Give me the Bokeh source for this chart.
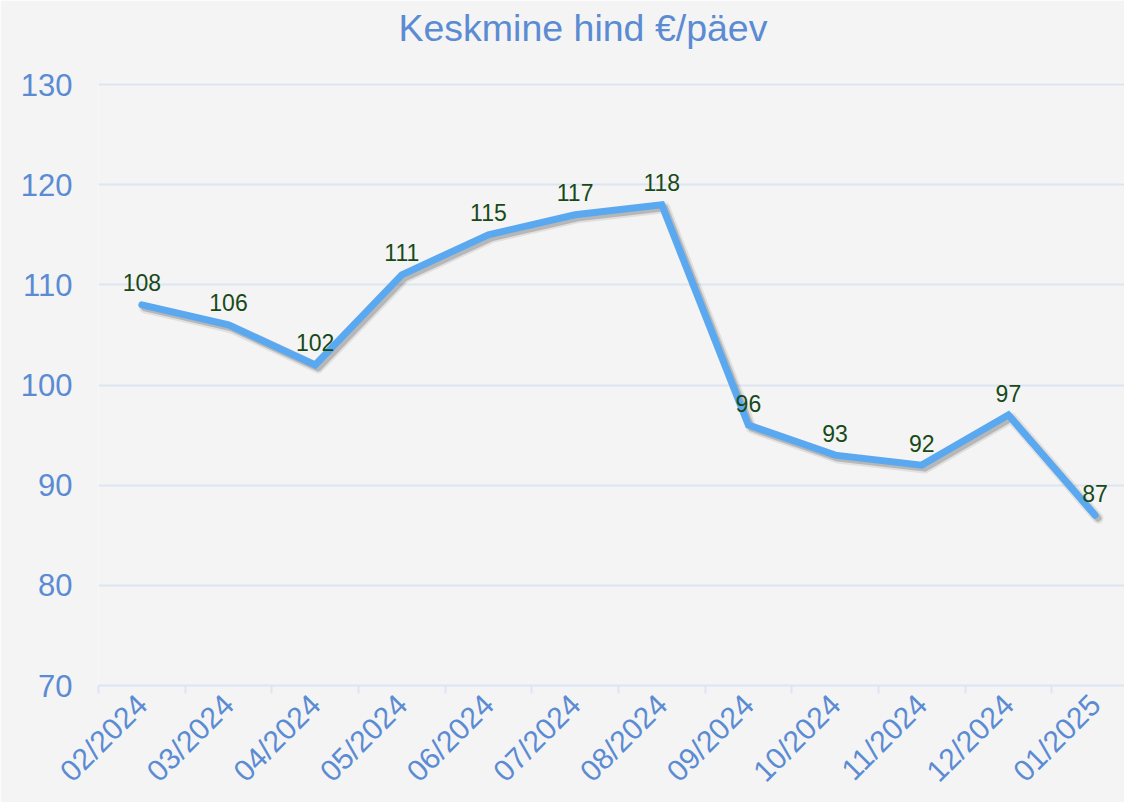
import math
from bokeh.plotting import figure
from bokeh.models import Range1d, FixedTicker, ColumnDataSource, Title
from bokeh.core.properties import value
from bokeh.embed import file_html
from bokeh.resources import INLINE

months = ["02/2024", "03/2024", "04/2024", "05/2024", "06/2024", "07/2024",
          "08/2024", "09/2024", "10/2024", "11/2024", "12/2024", "01/2025"]
prices = [108, 106, 102, 111, 115, 117, 118, 96, 93, 92, 97, 87]
y_ticks = [70, 80, 90, 100, 110, 120, 130]

FONT = "Liberation Sans"
BLUE_TXT = "#5b8bd3"
GRID = "#dce6f2"
BG = "#f4f4f4"
LINE = "#5aa9f0"
LABEL = "#184a18"

idx = list(range(len(months)))
Y0, Y1 = 70, 130.2

p = figure(width=1124, height=802, output_backend="svg", toolbar_location=None,
           x_range=Range1d(-0.5, 11.34), y_range=Range1d(Y0, Y1),
           min_border_left=98, min_border_right=0, min_border_top=82,
           min_border_bottom=117)
p.background_fill_color = BG
p.border_fill_color = BG
p.outline_line_color = None

# spacer between the title and the plot area
p.add_layout(Title(text=" ", text_font_size="1px", standoff=31), "above")

p.title.text = "Keskmine hind €/päev"
p.title.text_font = FONT
p.title.text_font_size = "37.5px"
p.title.text_font_style = "normal"
p.title.text_color = BLUE_TXT
p.title.align = "left"
p.title.offset = 300
p.title.standoff = 0

# y axis
p.yaxis.ticker = FixedTicker(ticks=y_ticks)
p.yaxis.axis_line_color = None
p.yaxis.major_tick_line_color = None
p.yaxis.major_tick_out = 0
p.yaxis.major_tick_in = 0
p.yaxis.minor_tick_line_color = None
p.yaxis.major_label_text_font = FONT
p.yaxis.major_label_text_font_size = "31px"
p.yaxis.major_label_text_color = BLUE_TXT
p.yaxis.major_label_standoff = 26
p.ygrid.grid_line_color = GRID
p.ygrid.grid_line_width = 2

# x axis: labels at month centres, ticks at boundaries
p.xaxis.ticker = FixedTicker(ticks=idx, minor_ticks=[i - 0.5 for i in idx])
p.xaxis.major_label_overrides = {i: m for i, m in zip(idx, months)}
p.xaxis.major_tick_line_color = None
p.xaxis.major_tick_out = 0
p.xaxis.major_tick_in = 0
p.xaxis.minor_tick_line_color = GRID
p.xaxis.minor_tick_line_width = 2
p.xaxis.minor_tick_out = 8
p.xaxis.minor_tick_in = 0
p.xaxis.axis_line_color = GRID
p.xaxis.axis_line_width = 2
p.xaxis.major_label_orientation = math.pi / 4
p.xaxis.major_label_text_font = FONT
p.xaxis.major_label_text_font_size = "30px"
p.xaxis.major_label_text_color = BLUE_TXT
p.xaxis.major_label_standoff = 6
p.xgrid.grid_line_color = None

# soft shadow under the line (offset by a few pixels)
px_x = 1.0 / 86.65
px_y = 60.0 / 601.0
shadow_src = ColumnDataSource(dict(x=[i + 3 * px_x for i in idx],
                                   y=[v - 3 * px_y for v in prices]))
p.line("x", "y", source=shadow_src, line_color="#000000", line_alpha=0.08,
       line_width=11, line_cap="round", line_join="round")
p.line("x", "y", source=shadow_src, line_color="#000000", line_alpha=0.18,
       line_width=7, line_cap="round", line_join="round")

src = ColumnDataSource(dict(x=idx, y=prices, t=[str(v) for v in prices]))
p.line("x", "y", source=src, line_color=LINE, line_width=7,
       line_cap="round", line_join="miter")
p.text("x", "y", text="t", source=src, text_font=value(FONT),
       text_font_size="23px", text_color=LABEL, text_align="center",
       text_baseline="alphabetic", y_offset=-22)

open("out.html", "w").write(file_html(p, INLINE))
